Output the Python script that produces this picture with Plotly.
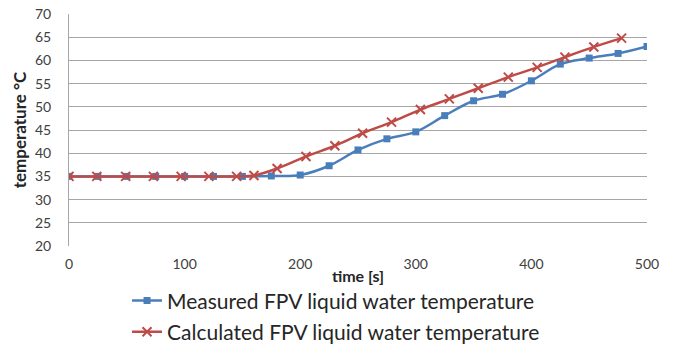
import plotly.graph_objects as go

meas_t = [0, 25, 50, 75, 100, 125, 150, 175, 200, 225, 250, 275, 300, 325, 350, 375, 400, 425, 450, 475, 500]
meas_v = [35, 35, 35, 35, 35, 35, 35, 35.1, 35.3, 37.3, 40.7, 43.1, 44.6, 48.1, 51.3, 52.7, 55.6, 59.2, 60.5, 61.5, 63.0]

calc_t = [0, 24, 49, 73, 97, 121, 145, 160, 180, 205, 230, 254, 279, 304, 329, 354, 380, 405, 429, 454, 478]
calc_v = [35, 35, 35, 35, 35, 35, 35, 35.2, 36.7, 39.3, 41.6, 44.3, 46.7, 49.4, 51.7, 54.0, 56.4, 58.5, 60.7, 62.9, 64.8]

x_ticks = [0, 100, 200, 300, 400, 500]
y_ticks = [20, 25, 30, 35, 40, 45, 50, 55, 60, 65, 70]

BLUE = "#4a7ebb"
RED = "#be4b48"
FONT = "Lato"

fig = go.Figure()
fig.add_trace(go.Scatter(
    x=meas_t, y=meas_v, mode="lines+markers", line_shape="spline",
    name="Measured FPV liquid water temperature", legendgroup="m",
    line=dict(color=BLUE, width=2.5),
    marker=dict(symbol="square", size=7, color=BLUE),
))
fig.add_trace(go.Scatter(
    x=calc_t, y=calc_v, mode="lines+markers", line_shape="spline",
    name="Calculated FPV liquid water temperature", legendgroup="c",
    line=dict(color=RED, width=2.5),
    marker=dict(symbol="x-thin", size=9, color=RED, line=dict(color=RED, width=2)),
))

fig.update_layout(
    width=677, height=346,
    margin=dict(l=69, r=30, t=14, b=100, autoexpand=False),
    paper_bgcolor="white", plot_bgcolor="white",
    font=dict(family=FONT, color="#404040", size=14),
    showlegend=True,
    legend=dict(
        orientation="v", x=0.462, xanchor="center",
        y=-0.148, yanchor="top",
        font=dict(size=21, color="#262626", family=FONT),
        traceorder="grouped", tracegroupgap=1, itemwidth=30,
    ),
    xaxis=dict(
        range=[0, 500], tickvals=x_ticks, showgrid=False, zeroline=False,
        showline=False, ticks="outside", ticklen=5, tickcolor="rgba(0,0,0,0)",
        tickfont=dict(size=14, color="#404040"),
        title=dict(text="<b>time [s]</b>", font=dict(size=16, color="#262626"), standoff=0),
    ),
    yaxis=dict(
        range=[20, 70], tickvals=y_ticks, showgrid=True, gridcolor="#a6a6a6", gridwidth=1,
        zeroline=False, showline=True, linecolor="#a6a6a6", linewidth=1,
        ticks="outside", ticklen=14, tickcolor="rgba(0,0,0,0)",
        tickfont=dict(size=14, color="#404040"),
        title=dict(text="<b>temperature °C</b>", font=dict(size=17, color="#262626"), standoff=4),
    ),
)

fig.write_html("out.html")
